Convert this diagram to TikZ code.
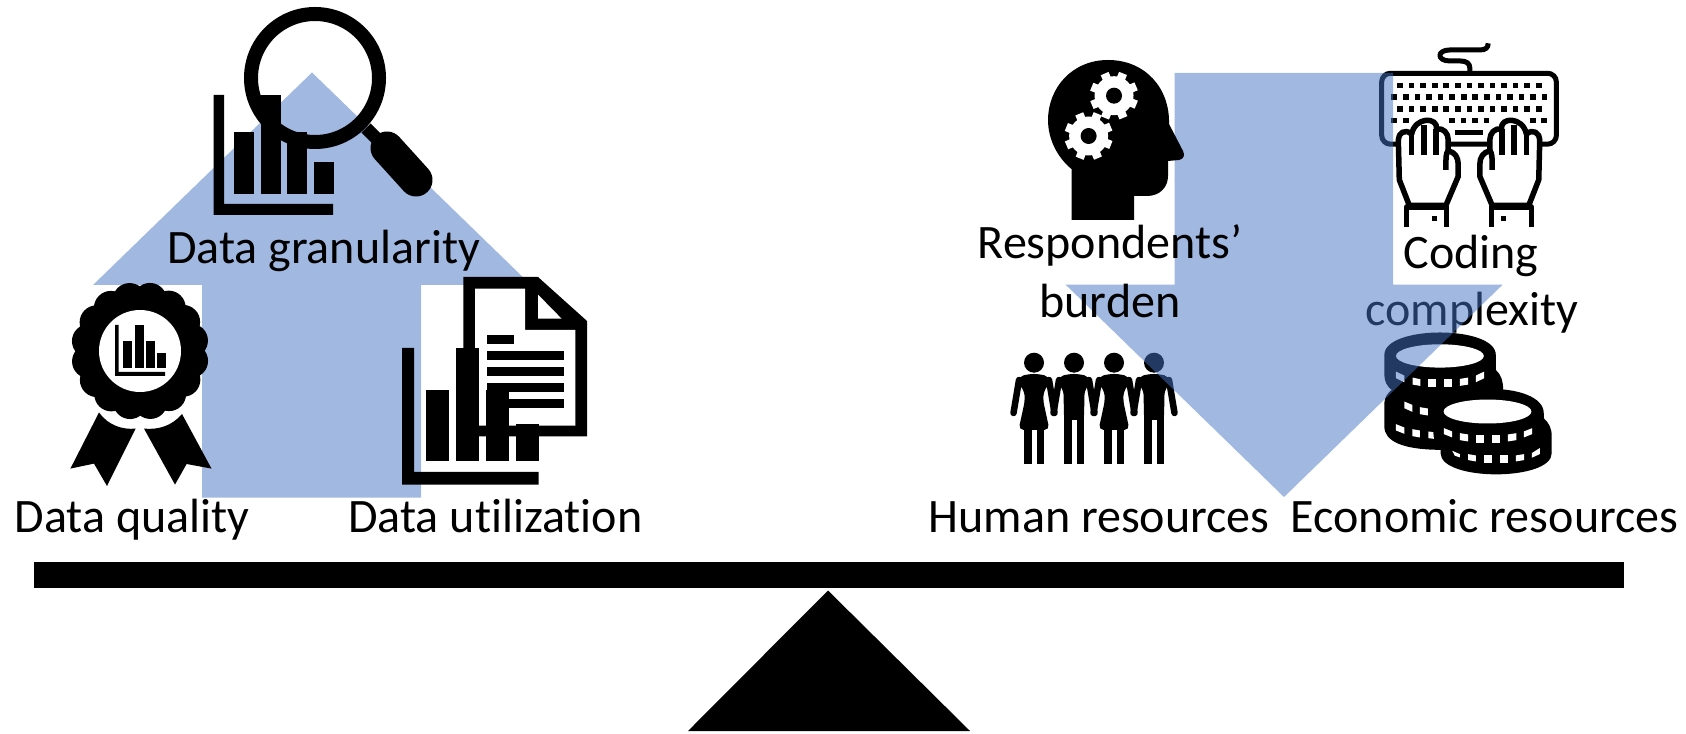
\documentclass[tikz,border=0pt]{standalone}
\usepackage{fontspec}
\setmainfont{Carlito}[RawFeature={-liga;-clig;-dlig}]
\newdimen\pxu \pxu=0.28453pt
\definecolor{arrowblue}{HTML}{4472C4}
\tikzset{
  lbl/.style={anchor=base,inner sep=0pt,font=\fontsize{13.66pt}{16pt}\selectfont,text=black},
  bigarrow/.style={fill=arrowblue,fill opacity=.5,draw=none},
  zthird/.style={x=0.003333cm,y=-0.003333cm},
  handline/.style={draw=black,line width=5.5*\pxu,line join=round},
  coinmark/.style={fill=white}
}
\newcommand{\armsfig}{%
 \draw[line width=6.5*\pxu,line cap=round] (-15,380) -- (-20.5,413);
 \draw[line width=6.5*\pxu,line cap=round] (15,380) -- (20.5,413);
}
\newcommand{\womanfig}[1]{\begin{scope}[shift={(#1,0)}]
 \fill (0,362.7) circle (10);
 \fill[rounded corners=1.5pt] (-18,381) -- (-14,376.5) -- (-6,374) -- (6,374) -- (14,376.5) -- (18,381) -- (10,390) -- (9,400) -- (15.5,430) -- (-15.5,430) -- (-9,400) -- (-10,390) -- cycle;
 \armsfig
 \fill (-10,428) rectangle (-2.5,464);
 \fill (2.5,428) rectangle (10,464);
\end{scope}}
\newcommand{\manfig}[1]{\begin{scope}[shift={(#1,0)}]
 \fill (0,362.7) circle (10);
 \fill[rounded corners=1.5pt] (-18,381) -- (-14,376.5) -- (-6,374) -- (6,374) -- (14,376.5) -- (18,381) -- (10.5,390) -- (10,420) -- (-10,420) -- (-10.5,390) -- cycle;
 \armsfig
 \fill (-10,415) rectangle (-2.5,464);
 \fill (2.5,415) rectangle (10,464);
\end{scope}}
\newcommand{\gearfig}[2]{\begin{scope}[shift={(#1,#2)}]
 \fill[white] (0,0) circle (19.5);
 \foreach \a in {0,45,...,315} {\draw[white,line width=8.5*\pxu] (\a+22:14) -- (\a+22:24);}
 \fill[black] (0,0) circle (8);
\end{scope}}
\newcommand{\handfig}{%
 \draw[handline,fill=white] (118,512) -- (88,435) -- (85,315) .. controls (85,295) and (105,280) .. (125,298)
   .. controls (135,245) and (205,245) .. (200,283) .. controls (220,278) and (235,295) .. (235,315) -- (235,348)
   .. controls (255,352) and (265,368) .. (265,388) -- (265,425) -- (228,512) -- cycle;
 \draw[handline] (125,298) -- (125,360);
 \draw[handline] (162,270) -- (162,360);
 \draw[handline] (198,283) -- (198,360);
 \draw[handline] (235,348) .. controls (228,355) and (228,365) .. (228,405);
 \draw[handline] (110,578) -- (110,517) -- (230,517) -- (230,578);
 \fill (185,545) rectangle (202,560);
}
\begin{document}
\begin{tikzpicture}[x=0.01cm,y=-0.01cm]
\useasboundingbox (0,0) rectangle (1686,734);
\fill[white] (0,0) rectangle (1686,734);

% up arrow
\fill[bigarrow] (312,72.5) -- (531,285) -- (421,285) -- (421,497.5) -- (202,497.5) -- (202,285) -- (93,285) -- cycle;

% data granularity icon
\draw[line width=14*\pxu] (315,78) circle (64);
\draw[line width=13*\pxu] (366,128) -- (384,146);
\draw[line width=33*\pxu,line cap=round] (387,148) -- (416,180);
\fill (213.5,95) -- (224,95) -- (224,204) -- (333,204) -- (333,215) -- (213.5,215) -- cycle;
\fill (234,132) rectangle (254,194);
\fill (261,95) rectangle (281,194);
\fill (287,132) rectangle (307,194);
\fill (314,162) rectangle (334,194);

% data quality icon
\foreach \a in {0,22.5,...,337.5} {\fill (140,351) ++(\a+11:52) circle (17);}
\fill (140,351) circle (58);
\fill[white] (140,351) circle (41);
\fill (115,325) -- (118.6,325) -- (118.6,372) -- (165,372) -- (165,376) -- (115,376) -- cycle;
\fill (123,341) rectangle (132,368);
\fill (135,325) rectangle (144,368);
\fill (146,341) rectangle (155,368);
\fill (157,353) rectangle (166,368);
\fill (99,412.5) .. controls (108,425) and (122,430) .. (135.6,428.6) -- (107,486) -- (94,463.6) -- (70.4,468.6) -- cycle;
\fill (182,414) .. controls (172,426) and (158,430) .. (144,428.6) -- (175,484.6) -- (186.6,464) -- (211.5,468.6) -- cycle;

% data utilization icon
\fill (463.4,277) -- (538,277) -- (587,321) -- (587,436.4) -- (463.4,436.4) -- cycle;
\fill[white] (475,288.6) -- (525,288.6) -- (525,330) -- (575.3,330) -- (575.3,425.7) -- (475,425.7) -- cycle;
\fill[white] (538,294.6) -- (538,318.6) -- (561.5,318.6) -- cycle;
\fill (487,335) rectangle (514,343.6);
\foreach \y in {351,367,383,399} {\fill (487,\y) rectangle (564,\y+8.7);}
\fill (402,348) -- (414,348) -- (414,472) -- (538.5,472) -- (538.5,484.6) -- (402,484.6) -- cycle;
\fill (426,390) rectangle (449,460.7);
\fill (456,348) rectangle (479,460.7);
\fill (486,390) rectangle (509,460.7);
\fill (516,424) rectangle (539,460.7);

\node[lbl] (granular) at (323.5,264) {Data granularity};
\node[lbl] (quality) at (132,532) {Data quality};
\node[lbl] (utilization) at (495.5,532) {Data utilization};

% people
\womanfig{1034}
\manfig{1074}
\womanfig{1114}
\manfig{1154}

% coins
\begin{scope}[shift={(1370,320)},zthird]
 \fill (43,105) .. controls (43,15) and (378,15) .. (378,105) -- (378,150) .. controls (395,165) and (400,185) .. (400,210) -- (400,390) -- (200,390) .. controls (100,388) and (43,365) .. (43,320) -- (43,250) .. controls (43,232) and (55,218) .. (65,210) .. controls (52,200) and (43,185) .. (43,165) -- cycle;
 \fill (212,280) .. controls (212,183) and (522,183) .. (522,280) -- (522,295) .. controls (538,310) and (546,325) .. (546,350) -- (546,400) .. controls (546,485) and (212,485) .. (212,400) -- cycle;
 \fill[white] (210,108) ellipse [x radius=132,y radius=35];
 \fill[white] (353,275) ellipse [x radius=132,y radius=36];
 % top coin marks
 \fill[coinmark] (78,155) -- (103,167) -- (103,187) -- (78,175) -- cycle;
 \fill[coinmark] (128,173) -- (151,178) -- (151,198) -- (128,194) -- cycle;
 \foreach \x in {175,222} {\fill[coinmark] (\x,178) rectangle (\x+24,202);}
 \fill[coinmark] (270,177) -- (295,173) -- (295,194) -- (270,198) -- cycle;
 \fill[coinmark] (318,167) -- (343,155) -- (343,175) -- (318,187) -- cycle;
 % middle coin marks
 \fill[coinmark] (103,245) -- (127,255) -- (127,276) -- (103,265) -- cycle;
 \fill[coinmark] (150,262) -- (174,266) -- (174,287) -- (150,283) -- cycle;
 % lower back coin marks
 \fill[coinmark] (78,313) -- (103,323) -- (103,342) -- (78,332) -- cycle;
 \fill[coinmark] (127,328) -- (150,332) -- (150,353) -- (127,349) -- cycle;
 \fill[coinmark] (175,335) -- (190,337) -- (192,357) -- (175,355) -- cycle;
 % front stack marks, upper row
 \fill[coinmark] (222,325) -- (247,335) -- (247,353) -- (222,343) -- cycle;
 \fill[coinmark] (270,340) -- (295,344) -- (295,365) -- (270,361) -- cycle;
 \foreach \x in {318,366} {\fill[coinmark] (\x,346) rectangle (\x+24,370);}
 \fill[coinmark] (414,344) -- (440,340) -- (440,361) -- (414,365) -- cycle;
 \fill[coinmark] (462,335) -- (487,325) -- (487,343) -- (462,353) -- cycle;
 % front stack marks, lower row
 \fill[coinmark] (247,393) -- (270,403) -- (270,413) -- (255,408) -- cycle;
 \fill[coinmark] (295,403) -- (318,407) -- (318,425) -- (295,421) -- cycle;
 \foreach \x in {342,390} {\fill[coinmark] (\x,407) rectangle (\x+24,430);}
 \fill[coinmark] (438,407) -- (463,403) -- (463,421) -- (438,425) -- cycle;
 \fill[coinmark] (486,400) -- (510,385) -- (510,403) -- (486,414) -- cycle;
\end{scope}

% keyboard
\begin{scope}[shift={(1370,35)},zthird]
 \draw[line width=5*\pxu,rounded corners=2.5pt] (35,115) rectangle (560,328);
 \draw[line width=5*\pxu,line join=round] (300,115) -- (300,100) .. controls (300,85) and (290,78) .. (270,78) -- (240,78) .. controls (200,78) and (200,45) .. (240,45) -- (330,45) .. controls (348,45) and (355,38) .. (355,25);
 \foreach \x in {90,124.75,...,508} {\fill (\x-8.5,143.5) rectangle (\x+8.5,160.5);}
 \foreach \x in {73,107.75,...,526} {\fill (\x-8.5,178.5) rectangle (\x+8.5,195.5);}
 \foreach \x in {90,124.75,...,508} {\fill (\x-8.5,213.5) rectangle (\x+8.5,230.5);}
 \foreach \x in {73,108,246,281,316,350,489,523} {\fill (\x-8.5,248.5) rectangle (\x+8.5,265.5);}
 \fill (255,285) rectangle (340,300);
 \handfig
 \begin{scope}[xscale=-1,shift={(-595,0)}]
  \handfig
 \end{scope}
\end{scope}

\node[lbl] (codingA) at (1471,269) {Coding};
\node[lbl] (codingB) at (1472,325.5) {complexity};

% down arrow
\fill[bigarrow] (1174.6,73) -- (1393,73) -- (1393,284.7) -- (1502.6,284.7) -- (1284,497) -- (1065.6,284.7) -- (1174.6,284.7) -- cycle;

% head
\fill (1071.5,220) -- (1134,220) -- (1134,196) -- (1147,196) .. controls (1160,196) and (1168,187) .. (1168,176) -- (1168,161) -- (1179,160) .. controls (1184,159) and (1185,155) .. (1183,151) -- (1169,124) .. controls (1170,88) and (1145,60) .. (1108,60) .. controls (1072,60) and (1048,88) .. (1048,120) .. controls (1048,140) and (1058,158) .. (1071.5,169) -- cycle;
\gearfig{1114}{95.7}
\gearfig{1088.6}{136}

\node[lbl] (respA) at (1110,259) {Respondents’};
\node[lbl] (respB) at (1110,317.5) {burden};
\node[lbl] (human) at (1099,532) {Human resources};
\node[lbl] (econ) at (1484.5,532) {Economic resources};

% balance
\fill (34.4,562) rectangle (1623.7,588);
\fill (828,590.5) -- (970,731) -- (688,731) -- cycle;
\end{tikzpicture}
\end{document}
